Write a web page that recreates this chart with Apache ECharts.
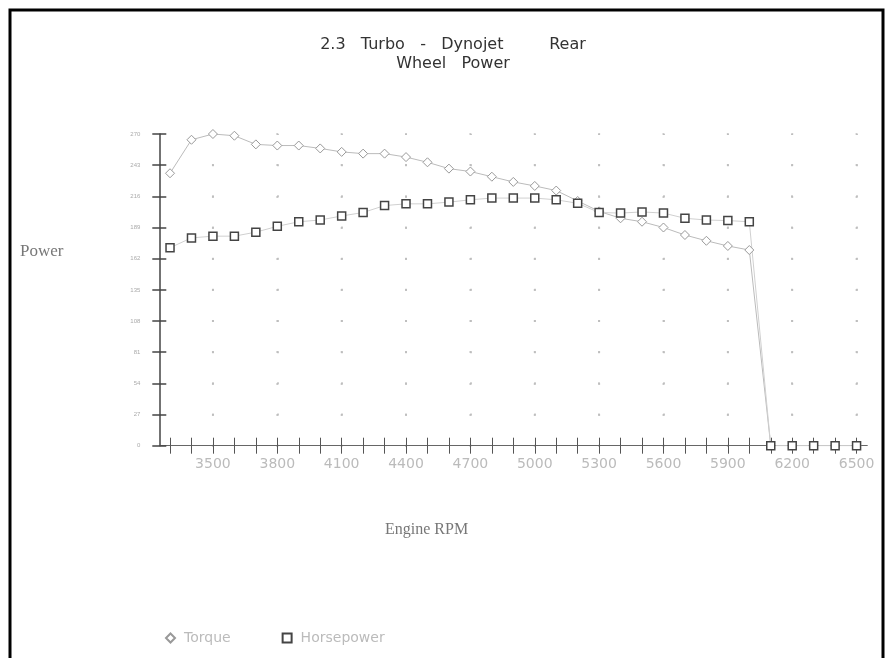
<!DOCTYPE html>
<html>
<head>
<meta charset="utf-8">
<script src="https://cdn.jsdelivr.net/npm/echarts@6/dist/echarts.min.js"></script>
<style>
html,body{margin:0;padding:0;background:#fff;}
#chart{width:892px;height:658px;}
</style>
</head>
<body>
<div id="chart"></div>
<script>
// ---- data ----
const rpm = ['3300','3400','3500','3600','3700','3800','3900','4000','4100','4200','4300',
             '4400','4500','4600','4700','4800','4900','5000','5100','5200','5300','5400',
             '5500','5600','5700','5800','5900','6000','6100','6200','6300','6400','6500'];
const torque = [236, 265, 270, 268.5, 261, 260, 260, 257.5, 254.5, 253, 253,
                250, 245.5, 240, 237.5, 233, 228.5, 225, 221, 212, 203, 197,
                194, 189, 182.5, 177.5, 173, 169.5, 0, 0, 0, 0, 0];
const horsepower = [171.5, 180, 181.5, 181.5, 185, 190, 194, 195.5, 199, 202, 208,
                    209.5, 209.5, 211, 213, 214.5, 214.5, 214.5, 213, 210, 202, 201.5,
                    202.5, 201.5, 197, 195.5, 195, 194, 0, 0, 0, 0, 0];
const yTicks = [0, 27, 54, 81, 108, 135, 162, 189, 216, 243, 270];
const seriesNames = ['Torque', 'Horsepower'];
const titleText = '2.3   Turbo   -   Dynojet         Rear\nWheel   Power';
const yName = 'Power';
const xName = 'Engine RPM';

// ---- layout ----
const G = {left: 159.3, top: 134, width: 708, height: 311.7};
const band = G.width / rpm.length;
const yMin = yTicks[0], yMax = yTicks[yTicks.length - 1], yInt = yTicks[1] - yTicks[0];
const labelIdx = (i) => i % 3 === 2;

const chart = echarts.init(document.getElementById('chart'));
const gridCommon = {left: G.left, top: G.top, width: G.width, height: G.height, containLabel: false};

chart.setOption({
  animation: false,
  backgroundColor: '#fff',
  title: {
    text: titleText,
    left: 448, top: 30, textAlign: 'center',
    textStyle: {fontFamily: 'DejaVu Sans', fontSize: 16, fontWeight: 'normal', color: '#333', lineHeight: 19}
  },
  legend: {
    data: [{name: seriesNames[0], icon: 'diamond'}, {name: seriesNames[1], icon: 'rect'}],
    left: 160, top: 626, itemWidth: 9, itemHeight: 9, itemGap: 51,
    textStyle: {fontFamily: 'DejaVu Sans', fontSize: 14, color: '#bbb', padding: [0, 0, 0, 4]}
  },
  grid: [Object.assign({}, gridCommon), Object.assign({}, gridCommon)],
  xAxis: [{
    type: 'category', data: rpm, gridIndex: 0, boundaryGap: true,
    axisLine: {lineStyle: {color: '#666', width: 1}},
    axisTick: {show: true, alignWithLabel: true, interval: 0, length: 8, lineStyle: {color: '#555'}},
    axisLabel: {interval: labelIdx, margin: 12, color: '#bbb', fontSize: 14, fontFamily: 'DejaVu Sans'},
    splitLine: {show: true, alignWithLabel: true, interval: labelIdx,
      lineStyle: {color: '#bbb', width: 1.5, type: [2, G.height / 10 - 2], dashOffset: 1}}
  }, {
    type: 'category', data: rpm, gridIndex: 1, boundaryGap: true, position: 'bottom',
    axisLine: {show: false},
    axisTick: {show: true, inside: true, alignWithLabel: true, interval: 0, length: 8, lineStyle: {color: '#555'}},
    axisLabel: {show: false}, splitLine: {show: false}
  }],
  yAxis: [{
    type: 'value', gridIndex: 0, min: yMin, max: yMax, interval: yInt,
    axisLine: {show: true, lineStyle: {color: '#444', width: 1.5}},
    axisTick: {show: true, length: 7, lineStyle: {color: '#444', width: 1.5}},
    axisLabel: {margin: 19, color: '#aaa', fontSize: 6, fontFamily: 'Liberation Sans'},
    splitLine: {show: true,
      lineStyle: {color: '#bbb', width: 1.5, type: [2, 3 * band - 2], dashOffset: 0.5 * band + 1}}
  }, {
    type: 'value', gridIndex: 1, min: yMin, max: yMax, interval: yInt, position: 'left',
    axisLine: {show: false},
    axisTick: {show: true, inside: true, length: 7, lineStyle: {color: '#444', width: 1.5}},
    axisLabel: {show: false}, splitLine: {show: false}
  }],
  series: [{
    name: seriesNames[0], type: 'line', data: torque, xAxisIndex: 0, yAxisIndex: 0,
    symbol: 'diamond', symbolSize: 9, showAllSymbol: true,
    lineStyle: {color: '#bbb', width: 1},
    itemStyle: {color: '#fff', borderColor: '#999', borderWidth: 1}
  }, {
    name: seriesNames[1], type: 'line', data: horsepower, xAxisIndex: 0, yAxisIndex: 0,
    symbol: 'rect', symbolSize: 8, showAllSymbol: true,
    lineStyle: {color: '#d0d0d0', width: 1},
    itemStyle: {color: '#fff', borderColor: '#444', borderWidth: 1.5}
  }],
  graphic: [{
    type: 'rect', silent: true, z: 100,
    shape: {x: 10, y: 10, width: 873, height: 700},
    style: {fill: 'none', stroke: '#000', lineWidth: 3}
  }, {
    type: 'text', left: 20, top: 243,
    style: {text: yName, font: '17px "Liberation Serif"', fill: '#777'}
  }, {
    type: 'text', left: 385, top: 522,
    style: {text: xName, font: '16px "Liberation Serif"', fill: '#777'}
  }]
});
</script>
</body>
</html>
